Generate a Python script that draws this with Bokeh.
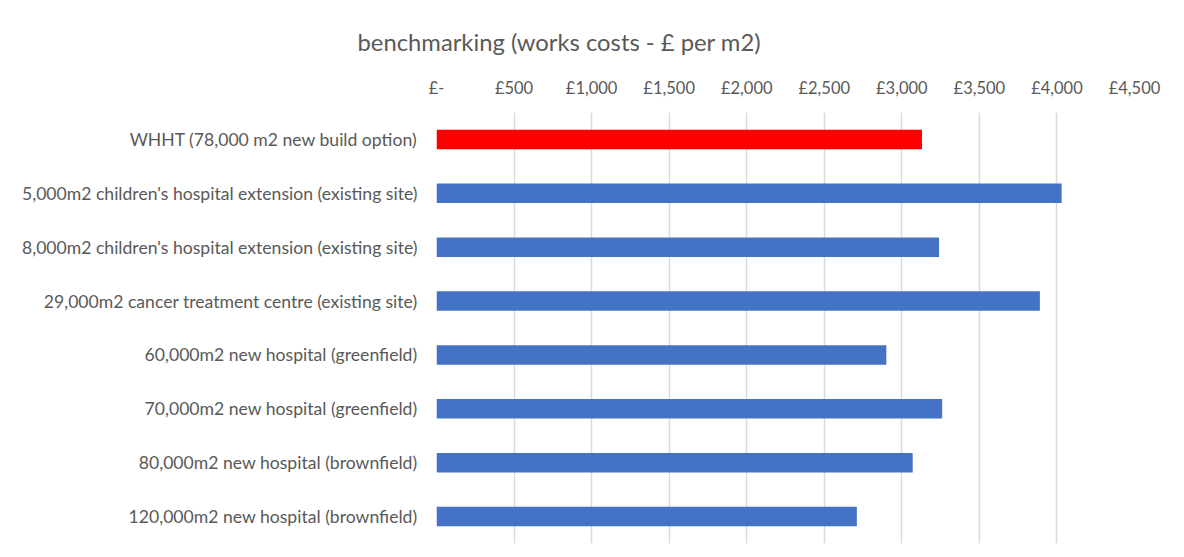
from bokeh.plotting import figure
from bokeh.models import Range1d, FixedTicker, CustomJSTickFormatter, Title, ColumnDataSource
from bokeh.embed import file_html
from bokeh.resources import INLINE

categories = [
    "WHHT (78,000 m2 new build option)",
    "5,000m2 children's hospital extension (existing site)",
    "8,000m2 children's hospital extension (existing site)",
    "29,000m2 cancer treatment centre (existing site)",
    "60,000m2 new hospital (greenfield)",
    "70,000m2 new hospital (greenfield)",
    "80,000m2 new hospital (brownfield)",
    "120,000m2 new hospital (brownfield)",
]
costs = [3130, 4030, 3240, 3890, 2900, 3260, 3070, 2710]
bar_colors = ["#FF0000"] + ["#4472C4"] * 7
tick_values = [0, 500, 1000, 1500, 2000, 2500, 3000, 3500, 4000, 4500]

TEXT = "#595959"
FONT = "Lato"

src = ColumnDataSource(dict(cat=categories, cost=costs, color=bar_colors))

p = figure(
    width=1176, height=549,
    y_range=list(reversed(categories)),
    x_range=Range1d(0, 4500),
    x_axis_location="above",
    output_backend="svg",
    toolbar_location=None,
    min_border_left=436, min_border_right=42, min_border_top=112, min_border_bottom=6,
)
p.title = None
p.add_layout(Title(text="benchmarking (works costs - £ per m2)", text_font=FONT,
                   text_font_size="23.8px", text_font_style="normal", text_color=TEXT,
                   align="left", offset=-79, standoff=38), "above")

p.hbar(y="cat", right="cost", left=0, height=0.36, color="color", line_color=None, source=src)

p.outline_line_color = None
p.background_fill_color = "white"
p.border_fill_color = "white"

xa = p.xaxis[0]
xa.ticker = FixedTicker(ticks=tick_values)
xa.formatter = CustomJSTickFormatter(code="""
    if (tick == 0) { return "\u00a3-"; }
    return "\u00a3" + tick.toString().replace(/\\B(?=(\\d{3})+(?!\\d))/g, ",");
""")
xa.axis_line_color = None
xa.major_tick_line_color = None
xa.minor_tick_line_color = None
xa.major_label_text_font = FONT
xa.major_label_text_font_size = "16.5px"
xa.major_label_text_color = TEXT
xa.major_label_standoff = 9

ya = p.yaxis[0]
ya.axis_line_color = None
ya.major_tick_line_color = None
ya.minor_tick_line_color = None
ya.major_label_text_font = FONT
ya.major_label_text_font_size = "17.6px"
ya.major_label_text_color = TEXT
ya.major_label_standoff = 13

p.xgrid.grid_line_color = "#D9D9D9"
p.xgrid.grid_line_width = 1.5
p.xgrid.ticker = FixedTicker(ticks=tick_values)
p.ygrid.grid_line_color = None

open("out.html", "w").write(file_html(p, INLINE))
